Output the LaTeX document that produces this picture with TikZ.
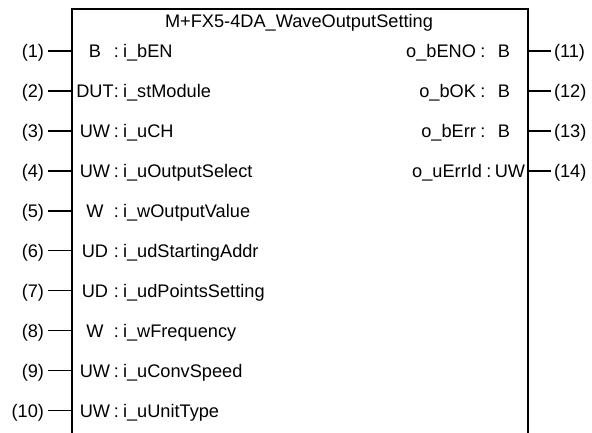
\documentclass[tikz,border=0pt]{standalone}
\usepackage{fontspec}
\setmainfont{Liberation Sans}
\begin{document}
\begin{tikzpicture}[x=1bp,y=-1bp,
  font=\fontsize{18.2bp}{20bp}\selectfont,
  boxline/.style={line width=1.8bp, line join=miter},
  pinline/.style={line width=1.5bp},
  lbl/.style={anchor=base, inner sep=0pt, outer sep=0pt}]
\useasboundingbox (0,0) rectangle (592,433);
% function block frame (open at bottom)
\coordinate (TL) at (72,9);
\coordinate (TR) at (528,9);
\coordinate (BL) at (72,433);
\coordinate (BR) at (528,433);
\draw[boxline] (BL) -- (TL) -- (TR) -- (BR);
\node[lbl] (title) at (299,28) {M+FX5-4DA\_WaveOutputSetting};
% inputs
\foreach \i/\t/\n in {1/B/i\_bEN, 2/DUT/i\_stModule, 3/UW/i\_uCH,
  4/UW/i\_uOutputSelect, 5/W/i\_wOutputValue, 6/UD/i\_udStartingAddr,
  7/UD/i\_udPointsSetting, 8/W/i\_wFrequency, 9/UW/i\_uConvSpeed,
  10/UW/i\_uUnitType}{
  \pgfmathsetmacro{\yy}{51+39.95*(\i-1)}
  \pgfmathsetmacro{\yb}{\yy+6.5}
  \coordinate (inA\i) at (48,\yy);
  \coordinate (inB\i) at (72,\yy);
  \draw[pinline] (inA\i) -- (inB\i);
  \node[lbl, anchor=base east] (inl\i) at (44,\yb) {(\i)};
  \node[lbl] (ty\i) at (95,\yb) {\t};
  \node[lbl] (co\i) at (116.5,\yb) {:};
  \node[lbl, anchor=base west] (nm\i) at (123,\yb) {\n};
}
% outputs
\foreach \j/\k/\n/\t/\ne/\cx/\tx in {1/11/o\_bENO/B/476/483/504,
  2/12/o\_bOK/B/476/483/504, 3/13/o\_bErr/B/476/483/504,
  4/14/o\_uErrId/UW/482/489/510}{
  \pgfmathsetmacro{\yy}{51+39.95*(\j-1)}
  \pgfmathsetmacro{\yb}{\yy+6.5}
  \coordinate (outA\k) at (528,\yy);
  \coordinate (outB\k) at (551,\yy);
  \draw[pinline] (outA\k) -- (outB\k);
  \node[lbl, anchor=base west] (outl\k) at (554,\yb) {(\k)};
  \node[lbl, anchor=base east] (onm\k) at (\ne,\yb) {\n};
  \node[lbl] (oco\k) at (\cx,\yb) {:};
  \node[lbl] (oty\k) at (\tx,\yb) {\t};
}
\end{tikzpicture}
\end{document}
